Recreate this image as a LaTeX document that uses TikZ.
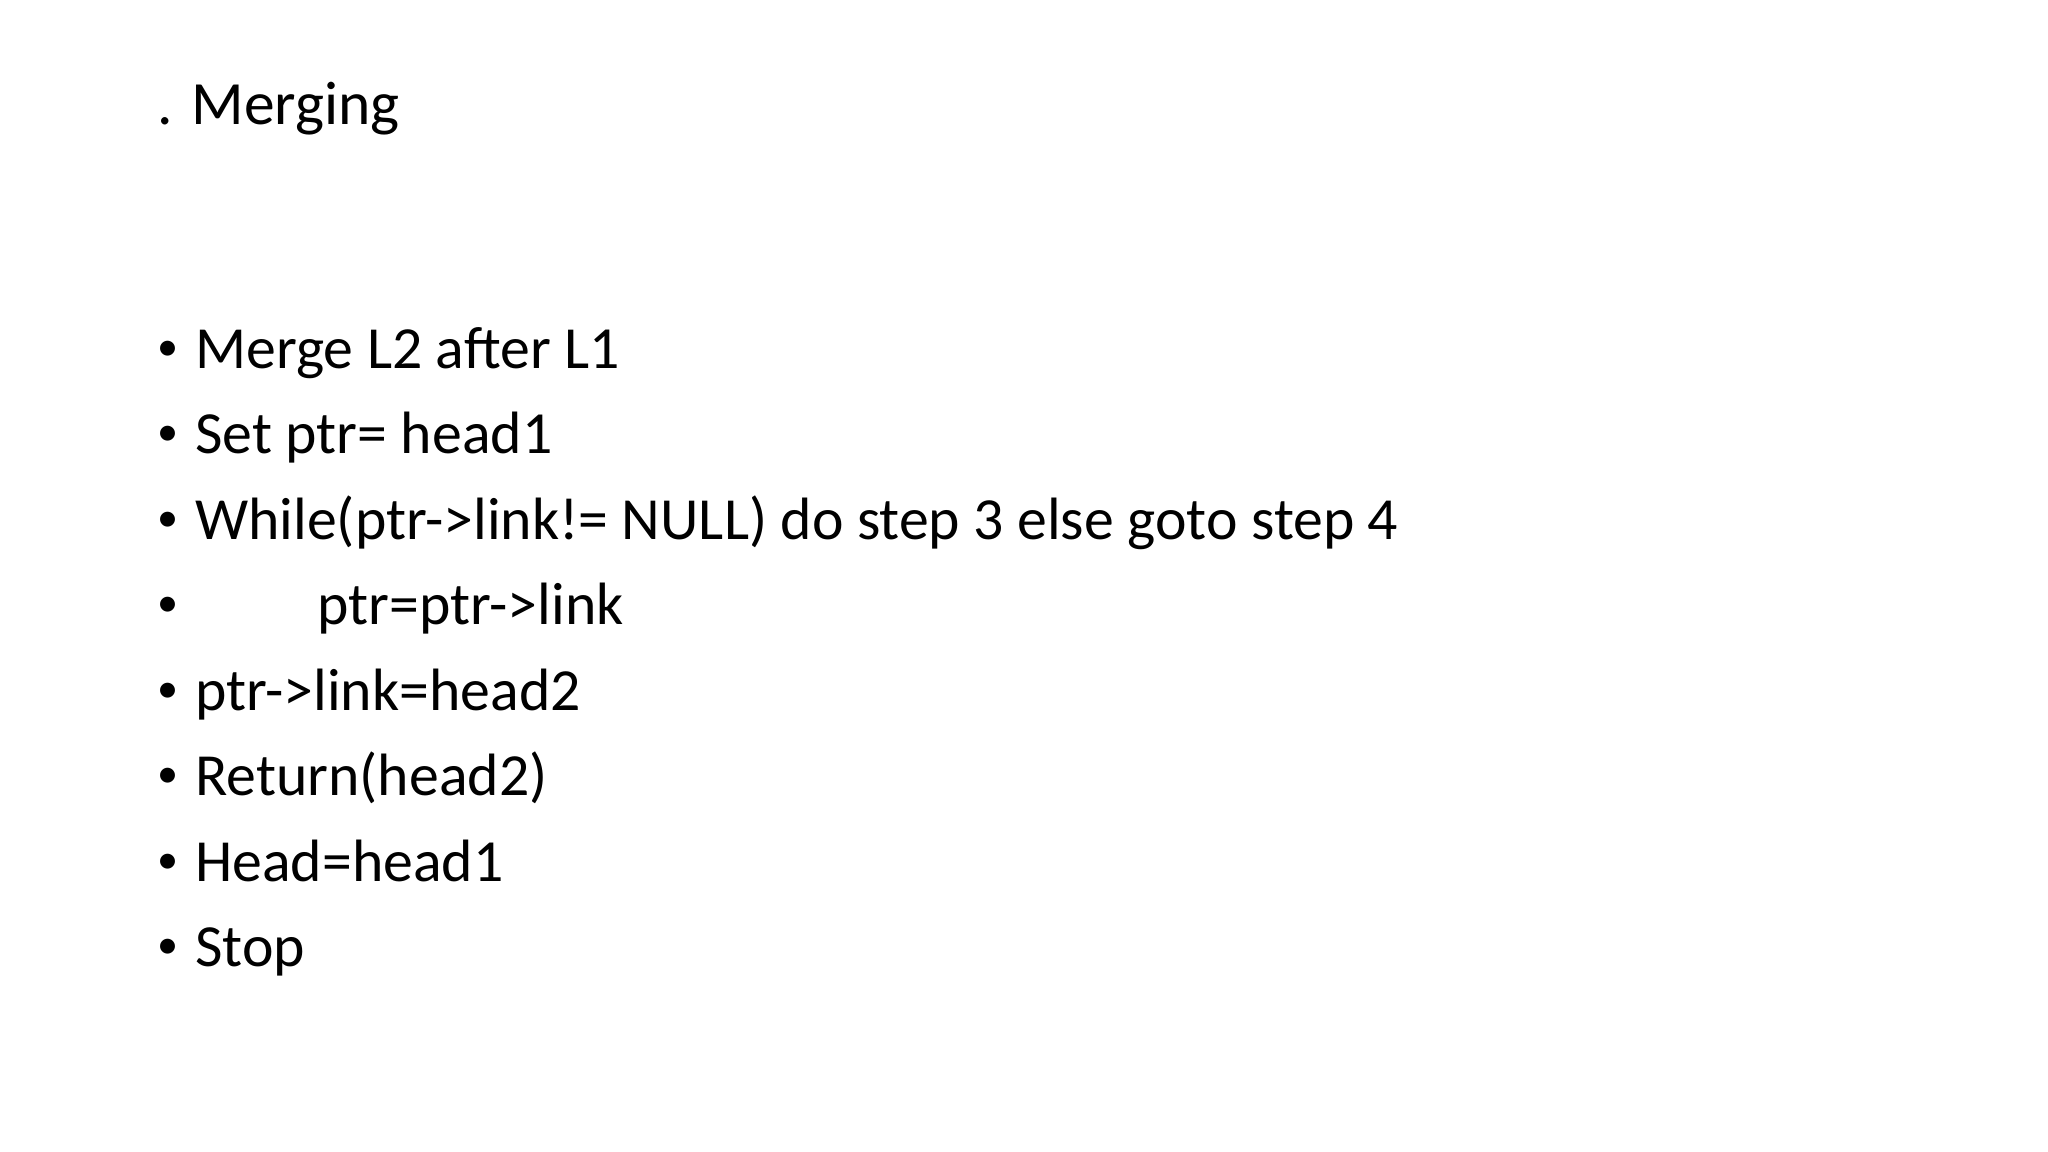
\documentclass[tikz,border=0pt]{standalone}
\usepackage{fontspec}
\setmainfont{Carlito}
\begin{document}
\begin{tikzpicture}[x=1cm,y=1cm,
  txt/.style={anchor=base west,inner sep=0pt,font=\fontsize{17}{20}\selectfont},
  bul/.style={anchor=base west,inner sep=0pt,font=\fontsize{12}{14}\selectfont}]
\useasboundingbox[fill=white] (0,0) rectangle (20.48,-11.52);
\node[txt,font=\fontsize{17.5}{20}\selectfont] (title) at (1.567,-1.25) {. Merging};
\foreach \i/\t/\x in {1/Merge L2 after L1/1.946, 2/Set ptr= head1/1.946, 3/While(ptr->link!= NULL) do step 3 else goto step 4/1.946, 4/ptr=ptr->link/3.17, 5/ptr->link=head2/1.946, 6/Return(head2)/1.946, 7/Head=head1/1.946, 8/Stop/1.946}{
  \pgfmathsetmacro{\yy}{-3.683-0.855*(\i-1)}
  \node[bul] (b\i) at (1.567,\yy+0.08) {•};
  \node[txt] (t\i) at (\x,\yy) {\t};
}
\end{tikzpicture}
\end{document}
